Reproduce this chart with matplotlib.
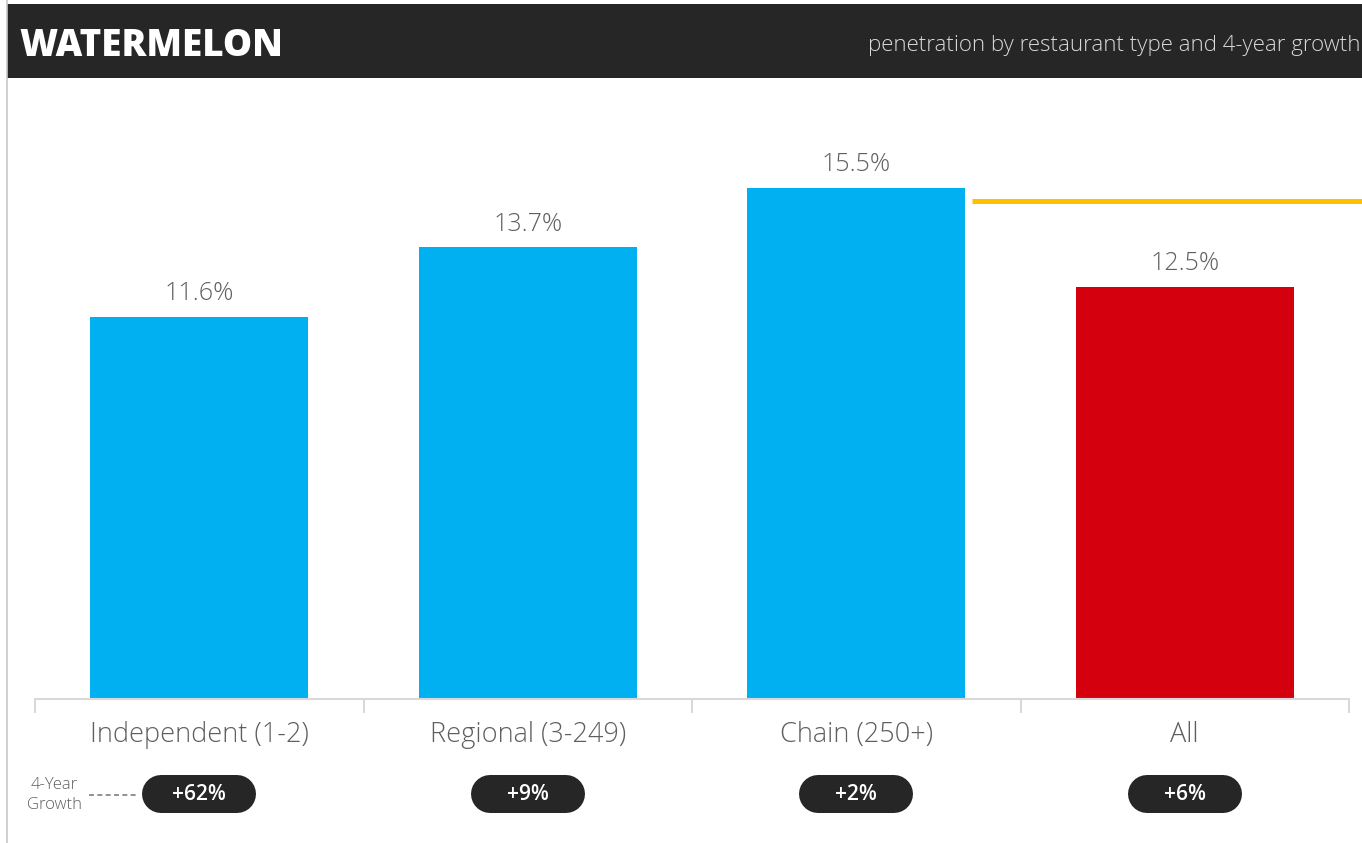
import matplotlib.pyplot as plt
from matplotlib.patches import Rectangle
from matplotlib.lines import Line2D

# ── Data ──────────────────────────────────────────────────────────────────────
categories  = ["Independent (1-2)", "Regional (3-249)", "Chain (250+)", "All"]
penetration = [11.6, 13.7, 15.5, 12.5]
growth      = ["+62%", "+9%", "+2%", "+6%"]
benchmark   = 15.1

# ── Style ─────────────────────────────────────────────────────────────────────
BLUE   = "#00B0F0"
RED    = "#D5000D"
DARK   = "#262626"
GOLD   = "#FFC000"
GREY   = "#5F5F5F"
AXIS   = "#D9D9D9"
LIGHT  = "Open Sans"

W, H, DPI = 1362, 843, 100
fig = plt.figure(figsize=(W / DPI, H / DPI), dpi=DPI, facecolor="white")

# main bar axes, placed in pixel terms
left, right, base, top = 35, 1349, 699, 100
ax = fig.add_axes([left / W, 1 - base / H, (right - left) / W, (base - top) / H])
ax.set_xlim(-0.5, len(categories) - 0.5)
ax.set_ylim(0, (base - top) / 32.97)

colors = [BLUE] * (len(categories) - 1) + [RED]
bars = ax.bar(range(len(categories)), penetration, width=0.664, color=colors, zorder=2)

for b, v in zip(bars, penetration):
    ax.annotate(f"{v:.1f}%", (b.get_x() + b.get_width() / 2, v),
                xytext=(0, 23), textcoords="offset pixels", ha="center", va="center",
                fontsize=18, color=GREY, family=LIGHT, fontweight="light")

# benchmark line to the right of the chain bar
ax.plot([2.352, 3.54], [benchmark, benchmark], color=GOLD, lw=3.6,
        solid_capstyle="butt", clip_on=False, zorder=3)

for s in ["top", "right", "left"]:
    ax.spines[s].set_visible(False)
ax.spines["bottom"].set_color(AXIS)
ax.spines["bottom"].set_linewidth(1.5)
ax.set_yticks([])
ax.set_xticks([i - 0.5 for i in range(len(categories) + 1)])
ax.set_xticklabels([])
ax.tick_params(axis="x", length=10, width=1.5, color=AXIS)
for i, c in enumerate(categories):
    ax.annotate(c, (i, 0), xytext=(0, -36), textcoords="offset pixels",
                ha="center", va="center", fontsize=19.5, color=GREY,
                family=LIGHT, fontweight="light", annotation_clip=False)

# ── Overlay in pixel coordinates (header, frame, growth pills) ────────────────
ov = fig.add_axes([0, 0, 1, 1], zorder=5)
ov.set_xlim(0, W)
ov.set_ylim(H, 0)
ov.axis("off")
ov.patch.set_alpha(0)

ov.add_line(Line2D([7, 7], [0, H], color="#C8C8C8", lw=1.2))
ov.add_patch(Rectangle((7, 4), W - 7, 74, color=DARK, lw=0))
ov.text(19, 46, "WATERMELON", color="white", fontsize=26.5, fontweight="heavy",
        family="Open Sans", va="center", ha="left")
ov.text(1360, 46, "penetration by restaurant type and 4-year growth", color="#D9D9D9",
        fontsize=16, family=LIGHT, fontweight="light", va="center", ha="right")

ov.text(54, 785, "4-Year", color=GREY, fontsize=12, family=LIGHT, fontweight="light",
        ha="center", va="center")
ov.text(54, 805, "Growth", color=GREY, fontsize=12, family=LIGHT, fontweight="light",
        ha="center", va="center")
ov.add_line(Line2D([89, 137], [795, 795], color="#7F7F7F", lw=1.2, ls=(0, (3, 2))))

# pills: a thick line with round caps
pill_w, pill_h, pill_y = 114, 38, 794
for i, g in enumerate(growth):
    cx = ax.transData.transform((i, 0))[0]
    half = (pill_w - pill_h) / 2
    ov.add_line(Line2D([cx - half, cx + half], [pill_y, pill_y], color=DARK,
                       lw=pill_h * 72 / DPI, solid_capstyle="round"))
    ov.text(cx, pill_y + 1, g, color="white", fontsize=15, fontweight="semibold",
            family="Open Sans", ha="center", va="center")

fig.savefig("out.png", dpi=DPI, facecolor="white")
